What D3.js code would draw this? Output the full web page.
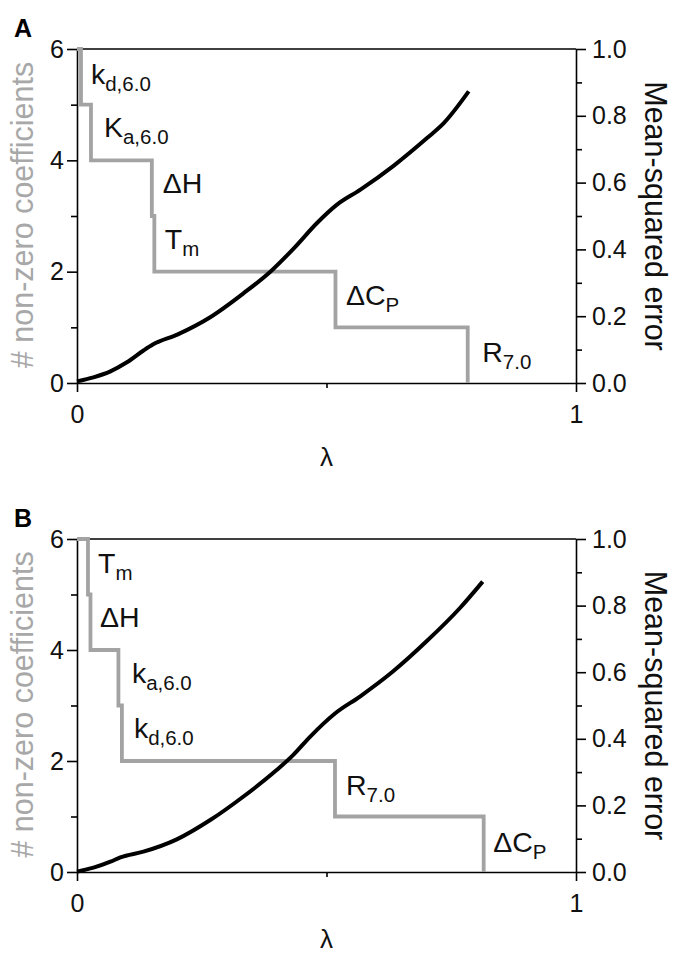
<!DOCTYPE html>
<html><head><meta charset="utf-8">
<script src="https://cdn.jsdelivr.net/npm/d3@7"></script>
<style>
body{margin:0;background:#fff}
svg{display:block}
text{font-family:"Liberation Sans", Arial, Helvetica, sans-serif}
</style>
</head><body>
<svg id="chart" width="676" height="955"></svg>
<script>
// ---------- tick values ----------
const lambdaMajorTicks = [0, 1];
const lambdaMinorTicks = [0.5];
const countMajorTicks = [0, 2, 4, 6];
const countMinorTicks = [1, 3, 5];
const mseMajorTicks = [0, 0.2, 0.4, 0.6, 0.8, 1.0];
const mseMinorTicks = [0.1, 0.3, 0.5, 0.7, 0.9];

// ---------- panel A data ----------
const stepLambdaA = [0, 0.008, 0.028, 0.150, 0.155, 0.518, 0.783];
const stepCountA  = [6, 5, 4, 3, 2, 1, 0];
const mseLambdaA = [0, 0.033, 0.067, 0.100, 0.134, 0.152, 0.201, 0.267, 0.334, 0.388, 0.435, 0.481, 0.521, 0.568, 0.635, 0.702, 0.735, 0.785];
const mseValueA  = [0.005, 0.017, 0.035, 0.062, 0.098, 0.115, 0.145, 0.197, 0.269, 0.334, 0.404, 0.479, 0.534, 0.579, 0.651, 0.734, 0.778, 0.873];
const labelMainA = ["k", "K", "\u0394H", "T", "\u0394C", "R"];
const labelSubA  = ["d,6.0", "a,6.0", "", "m", "P", "7.0"];
const labelLambdaA = [0.028, 0.054, 0.172, 0.176, 0.539, 0.812];
const labelCountA  = [5.37, 4.42, 3.41, 2.41, 1.40, 0.38];

// ---------- panel B data ----------
const stepLambdaB = [0, 0.022, 0.027, 0.083, 0.090, 0.517, 0.815];
const stepCountB  = [6, 5, 4, 3, 2, 1, 0];
const mseLambdaB = [0, 0.033, 0.067, 0.087, 0.133, 0.200, 0.267, 0.333, 0.400, 0.433, 0.467, 0.517, 0.567, 0.633, 0.700, 0.767, 0.813];
const mseValueB  = [0.001, 0.013, 0.031, 0.044, 0.061, 0.098, 0.156, 0.226, 0.306, 0.351, 0.406, 0.476, 0.527, 0.602, 0.692, 0.792, 0.872];
const labelMainB = ["T", "\u0394H", "k", "k", "R", "\u0394C"];
const labelSubB  = ["m", "", "a,6.0", "d,6.0", "7.0", "P"];
const labelLambdaB = [0.042, 0.046, 0.110, 0.114, 0.539, 0.834];
const labelCountB  = [5.39, 4.41, 3.41, 2.41, 1.39, 0.36];

const panels = [
  {letter: "A", top: 49, bottom: 383, lambdaGap: 83, stepL: stepLambdaA, stepC: stepCountA, mseL: mseLambdaA, mseV: mseValueA,
   lm: labelMainA, ls: labelSubA, lx: labelLambdaA, ly: labelCountA},
  {letter: "B", top: 539, bottom: 872, lambdaGap: 76, stepL: stepLambdaB, stepC: stepCountB, mseL: mseLambdaB, mseV: mseValueB,
   lm: labelMainB, ls: labelSubB, lx: labelLambdaB, ly: labelCountB}
];

const svg = d3.select("#chart");
const left = 77, right = 576;
const GRAY = "#a3a3a3";

function styleAxis(g, fs) {
  g.selectAll("path.domain").attr("stroke", "#000").attr("stroke-width", 1.6);
  g.selectAll(".tick line").attr("stroke", "#000").attr("stroke-width", 1.6);
  g.selectAll(".tick text").attr("font-size", fs).attr("fill", "#111")
   .style("font-family", '"Liberation Sans", Arial, sans-serif');
}

panels.forEach(p => {
  const x = d3.scaleLinear().domain([0, 1]).range([left, right]);
  const yC = d3.scaleLinear().domain([0, 6]).range([p.bottom, p.top]);
  const yM = d3.scaleLinear().domain([0, 1]).range([p.bottom, p.top]);
  const g = svg.append("g");

  // panel letter
  g.append("text").attr("x", 14).attr("y", p.top - 12).attr("font-size", 25)
    .attr("font-weight", "bold").text(p.letter);

  // top frame line
  g.append("line").attr("x1", left).attr("x2", right).attr("y1", p.top).attr("y2", p.top)
    .attr("stroke", "#000").attr("stroke-width", 1.6);

  // left axis
  const la = g.append("g").attr("transform", `translate(${left},0)`)
    .call(d3.axisLeft(yC).tickValues(countMajorTicks).tickSize(10).tickSizeOuter(0).tickPadding(3).tickFormat(d3.format("d")));
  styleAxis(la, 25);
  const lam = g.append("g").attr("transform", `translate(${left},0)`)
    .call(d3.axisLeft(yC).tickValues(countMinorTicks).tickSize(6).tickSizeOuter(0).tickFormat(""));
  lam.select("path.domain").remove(); styleAxis(lam, 25);

  // right axis
  const ra = g.append("g").attr("transform", `translate(${right},0)`)
    .call(d3.axisRight(yM).tickValues(mseMajorTicks).tickSize(10).tickSizeOuter(0).tickPadding(6).tickFormat(d3.format(".1f")));
  styleAxis(ra, 25);
  const ram = g.append("g").attr("transform", `translate(${right},0)`)
    .call(d3.axisRight(yM).tickValues(mseMinorTicks).tickSize(6).tickSizeOuter(0).tickFormat(""));
  ram.select("path.domain").remove(); styleAxis(ram, 25);

  // bottom axis
  const ba = g.append("g").attr("transform", `translate(0,${p.bottom})`)
    .call(d3.axisBottom(x).tickValues(lambdaMajorTicks).tickSize(9).tickSizeOuter(0).tickPadding(13).tickFormat(d3.format("d")));
  styleAxis(ba, 25);
  const bam = g.append("g").attr("transform", `translate(0,${p.bottom})`)
    .call(d3.axisBottom(x).tickValues(lambdaMinorTicks).tickSize(5).tickSizeOuter(0).tickFormat(""));
  bam.select("path.domain").remove(); styleAxis(bam, 25);

  // axis titles
  const midY = (p.top + p.bottom) / 2;
  g.append("text").attr("transform", `translate(33,${midY - 1}) rotate(-90)`)
    .attr("text-anchor", "middle").attr("font-size", 30.5).attr("fill", "#a8a8a8")
    .text("# non-zero coefficients");
  g.append("text").attr("transform", `translate(645,${midY}) rotate(90)`)
    .attr("text-anchor", "middle").attr("font-size", 30.5).attr("fill", "#111")
    .text("Mean-squared error");
  g.append("text").attr("x", (left + right) / 2).attr("y", p.bottom + p.lambdaGap)
    .attr("text-anchor", "middle").attr("font-size", 26).attr("fill", "#111").text("\u03BB");

  // step line (number of non-zero coefficients)
  const stepData = p.stepL.map((l, i) => [l, p.stepC[i]]);
  g.append("path").datum(stepData)
    .attr("d", d3.line().x(d => x(d[0])).y(d => yC(d[1])).curve(d3.curveStepAfter))
    .attr("fill", "none").attr("stroke", GRAY).attr("stroke-width", 3.8);

  // MSE curve
  const mseData = p.mseL.map((l, i) => [l, p.mseV[i]]);
  g.append("path").datum(mseData)
    .attr("d", d3.line().x(d => x(d[0])).y(d => yM(d[1])).curve(d3.curveMonotoneX))
    .attr("fill", "none").attr("stroke", "#000").attr("stroke-width", 4)
    .attr("stroke-linejoin", "round");

  // step labels
  p.lm.forEach((t, i) => {
    const tx = g.append("text").attr("x", x(p.lx[i])).attr("y", yC(p.ly[i]))
      .attr("font-size", 28.5).attr("fill", "#111");
    tx.append("tspan").text(t);
    if (p.ls[i]) tx.append("tspan").attr("dy", 7).attr("font-size", 20.5).text(p.ls[i]);
  });
});
</script>
</body></html>
